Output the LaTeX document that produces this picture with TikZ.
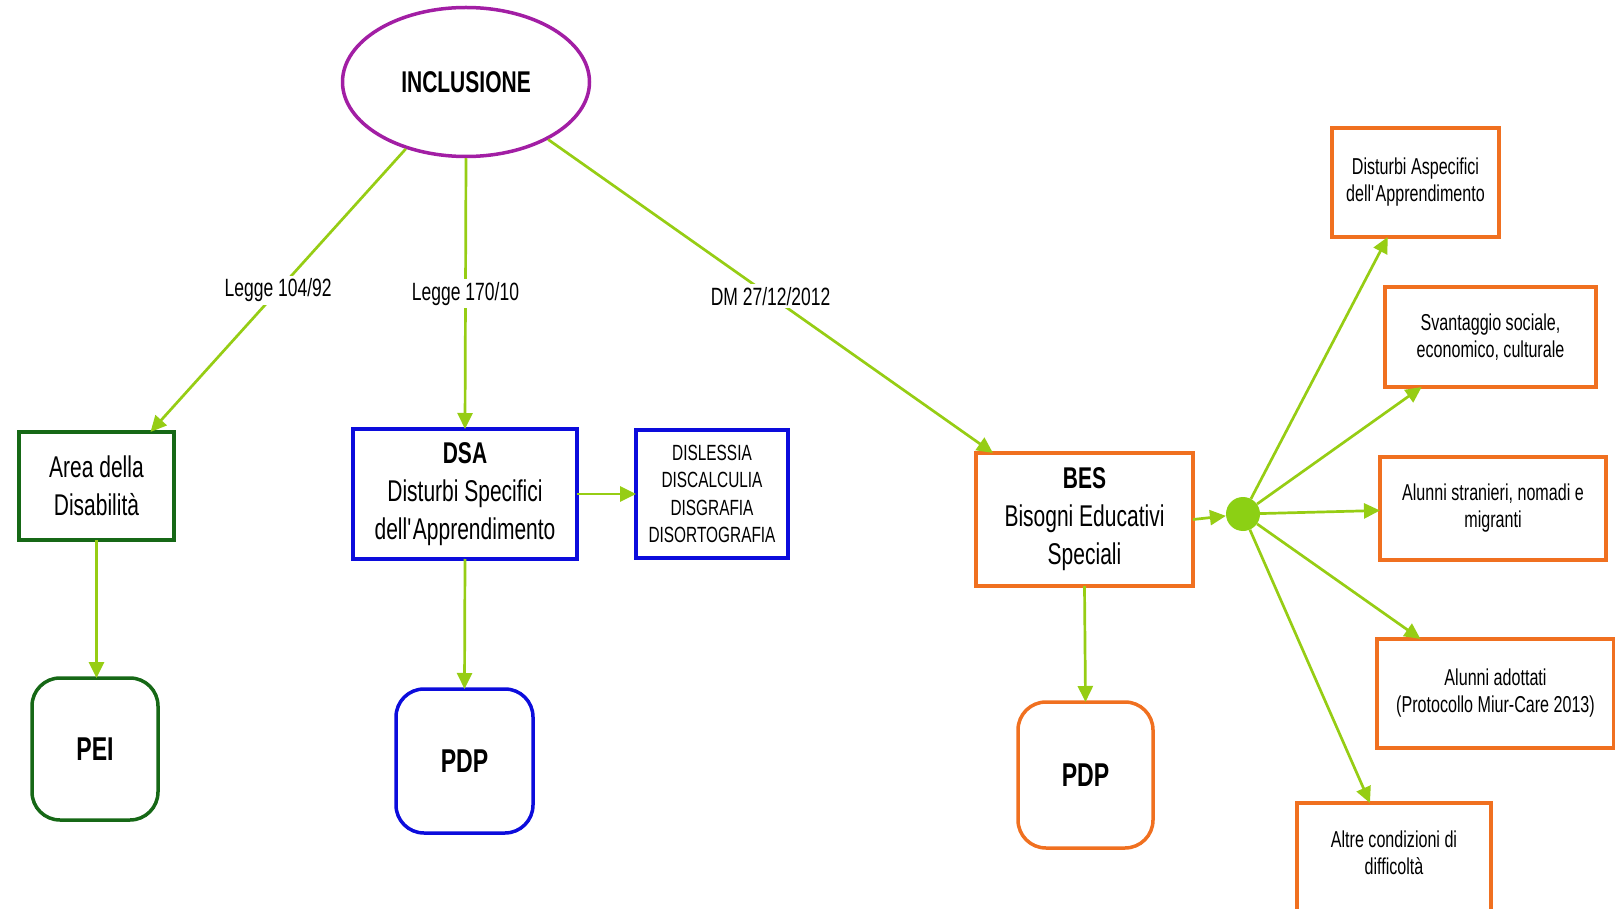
\documentclass[tikz,border=0pt]{standalone}
\usepackage{fontspec}
\setmainfont[FakeStretch=0.7]{Liberation Sans}
\usetikzlibrary{arrows.meta,shapes.geometric,calc}
\definecolor{arrowgreen}{RGB}{150,205,20}
\definecolor{dotgreen}{RGB}{140,208,20}
\definecolor{incpurple}{RGB}{162,30,164}
\definecolor{dkgreen}{RGB}{22,104,22}
\definecolor{bblue}{RGB}{12,12,220}
\definecolor{borange}{RGB}{240,112,32}
\begin{document}
\begin{tikzpicture}[x=1pt,y=-1pt,
  box/.style={draw, line width=3.5pt, align=center, inner sep=0pt, outer sep=0pt},
  big/.style={font=\fontsize{30pt}{38pt}\selectfont},
  small/.style={font=\fontsize{23pt}{27pt}\selectfont},
  plan/.style={box, rounded corners=28, font=\fontsize{33pt}{38pt}\selectfont\bfseries},
  conn/.style={draw=arrowgreen, line width=2.7pt, -{Triangle[length=16pt,width=15pt]}},
  lab/.style={fill=white, inner sep=3pt, font=\fontsize{25pt}{30pt}\selectfont}]
\useasboundingbox (0,0) rectangle (1615,909);

% main nodes
\node[ellipse, draw=incpurple, line width=3.5pt, minimum width=247, minimum height=149,
      inner sep=0pt, font=\fontsize{30pt}{36pt}\selectfont\bfseries] (incl) at (466,82) {INCLUSIONE};

\node[box, big, draw=dkgreen, minimum width=155, minimum height=108] (area) at (96.5,486) {Area della\\Disabilità};
\node[plan, draw=dkgreen, minimum width=126, minimum height=142] (pei) at (95,749) {PEI};

\node[box, big, draw=bblue, minimum width=224, minimum height=130] (dsa) at (465,494)
  {\textbf{DSA}\\Disturbi Specifici\\dell\textquotesingle Apprendimento};
\node[box, draw=bblue, minimum width=152, minimum height=128,
      font=\fontsize{22pt}{27.5pt}\selectfont] (dis) at (712,494)
  {DISLESSIA\\DISCALCULIA\\DISGRAFIA\\DISORTOGRAFIA};
\node[plan, draw=bblue, minimum width=137, minimum height=144] (pdpa) at (464.5,761) {PDP};

\node[box, big, draw=borange, minimum width=217, minimum height=133] (bes) at (1084.5,519.5)
  {\textbf{BES}\\Bisogni Educativi\\Speciali};
\node[plan, draw=borange, minimum width=135, minimum height=146] (pdpb) at (1085.5,775) {PDP};

\node[circle, fill=dotgreen, minimum size=34, inner sep=0pt] (dot) at (1243,514) {};

% right boxes
\node[box, small, draw=borange, minimum width=167, minimum height=109] (b1) at (1415.5,182.5)
  {Disturbi Aspecifici\\dell\textquotesingle Apprendimento};
\node[box, small, draw=borange, minimum width=211, minimum height=100] (b2) at (1490.5,337)
  {Svantaggio sociale,\\economico, culturale};
\node[box, small, draw=borange, minimum width=226, minimum height=103] (b3) at (1493,508.5)
  {Alunni stranieri, nomadi e\\migranti};
\node[box, small, draw=borange, minimum width=237, minimum height=109] (b4) at (1495.5,693.5)
  {Alunni adottati\\(Protocollo Miur-Care 2013)};
\node[box, draw=borange, minimum width=194, minimum height=132] (b5) at (1394,869) {};
\node[small, align=center] (b5t) at ([yshift=16]b5.center) {Altre condizioni di\\difficoltà};

% connectors
\draw[conn] (incl.-132) -- node[lab] {Legge 104/92} (area.45.5);
\draw[conn] (incl.-90) -- node[lab] {Legge 170/10} (dsa.north);
\draw[conn] (incl.-35) -- node[lab] {DM 27/12/2012} (bes.144.6);

\draw[conn] (area.south) -- (area.south |- pei.north);
\draw[conn] (dsa.south) -- (pdpa.north);
\draw[conn] (dsa.east) -- (dis.west);
\draw[conn] (bes.south) -- (pdpb.north);
\draw[conn] (bes.east) -- (dot);

\draw[conn] (dot) -- (b1.-117);
\draw[conn] (dot) -- (b2.-144.7);
\draw[conn] (dot) -- (b3.181);
\draw[conn] (dot) -- (b4.144.7);
\draw[conn] (dot) -- (b5.110);
\end{tikzpicture}
\end{document}
